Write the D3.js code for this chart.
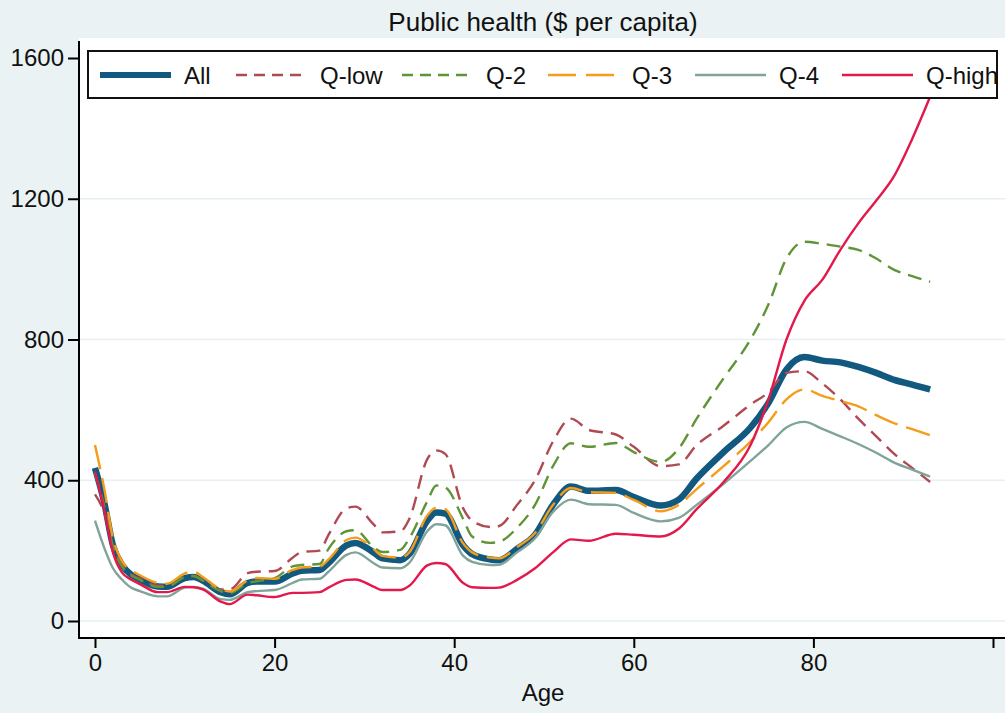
<!DOCTYPE html>
<html>
<head>
<meta charset="utf-8">
<script src="https://cdn.jsdelivr.net/npm/d3@7"></script>
<style>
  body { margin: 0; background: #eaf2f3; }
  svg { display: block; font-family: "Liberation Sans", Arial, sans-serif; }
</style>
</head>
<body>
<div id="chart"></div>
<script>
const ages = [0,1,2,3,4,5,7,8,10,11,12,14,15,17,18,20,22,23,25,26,28,29,31,32,34,35,37,38,39,41,42,44,45,47,49,51,53,55,58,60,63,65,67,70,73,75,77,79,81,83,85,87,89,91,93];

const allValues   = [435,340,215,160,132,118,98,97,122,125,115,82,76,108,112,112,135,143,145,165,215,222,195,178,173,190,285,308,305,215,190,175,173,205,245,330,382,370,372,352,328,345,405,480,550,620,715,750,740,735,722,705,685,672,658];
const qLowValues  = [360,310,215,160,132,120,100,100,125,128,115,90,90,136,140,142,180,196,200,245,320,325,275,252,255,290,460,485,475,320,285,267,270,330,400,510,575,543,530,495,440,445,500,555,615,650,705,710,675,630,575,525,475,435,395];
const q2Values    = [420,330,210,155,130,117,97,97,125,128,115,85,80,108,113,122,155,159,162,205,255,258,210,196,202,235,340,385,380,290,240,222,225,265,330,440,505,495,506,480,452,490,575,690,800,900,1030,1078,1072,1064,1055,1030,998,980,964];
const q3Values    = [500,380,235,170,145,130,108,106,135,140,125,90,84,115,122,120,145,152,155,175,230,237,205,185,180,195,300,322,318,220,195,180,178,210,250,330,378,366,364,344,312,330,375,440,510,565,630,658,640,625,610,585,562,545,528];
const q4Values    = [285,210,150,118,95,85,70,70,95,97,92,62,60,82,85,88,108,118,120,140,188,195,165,152,150,165,255,275,272,185,168,159,160,195,235,310,345,332,330,307,283,293,330,390,455,500,550,566,546,525,503,478,450,430,410];
const qHighValues = [425,320,195,138,118,105,82,82,97,96,90,55,48,75,73,68,80,80,82,95,117,118,98,88,88,100,158,165,162,108,96,94,95,117,150,195,232,228,248,245,240,262,318,395,500,630,800,910,970,1055,1130,1195,1265,1370,1490];

const seriesNames = ["All", "Q-low", "Q-2", "Q-3", "Q-4", "Q-high"];
const yTicks = [0, 400, 800, 1200, 1600];
const xTicks = [0, 20, 40, 60, 80, 100];

const series = [
  {name: "All",    values: allValues,   color: "#12597f", width: 6.5, dash: null,    keyDash: null},
  {name: "Q-low",  values: qLowValues,  color: "#b04a52", width: 2.4, dash: "14,8",  keyDash: "11,7"},
  {name: "Q-2",    values: q2Values,    color: "#5f9437", width: 2.4, dash: "14,8",  keyDash: "11,7"},
  {name: "Q-3",    values: q3Values,    color: "#f59c1a", width: 2.4, dash: "25,9",  keyDash: "28,10"},
  {name: "Q-4",    values: q4Values,    color: "#80a49a", width: 2.4, dash: null,    keyDash: null},
  {name: "Q-high", values: qHighValues, color: "#e3184b", width: 2.4, dash: null,    keyDash: null}
];

const W = 1005, H = 713;
const svg = d3.select("#chart").append("svg")
    .attr("width", W)
    .attr("height", H);

// plot region
const plot = {left: 79, top: 38, right: W, bottom: 638};

svg.append("rect")
    .attr("x", plot.left).attr("y", plot.top)
    .attr("width", plot.right - plot.left)
    .attr("height", plot.bottom - plot.top)
    .attr("fill", "#ffffff");

const x = d3.scaleLinear().domain([0, 100]).range([95, 993]);
const y = d3.scaleLinear().domain([0, 1600]).range([621, 58]);

// gridlines
svg.append("g")
    .selectAll("line")
    .data(yTicks.slice(0, -1))
    .join("line")
    .attr("x1", plot.left).attr("x2", plot.right)
    .attr("y1", d => y(d)).attr("y2", d => y(d))
    .attr("stroke", "#e6eff1")
    .attr("stroke-width", 1.5);

// series lines
const line = d3.line()
    .x((d, i) => x(ages[i]))
    .y(d => y(d))
    .curve(d3.curveMonotoneX);

// "All" first, the quintiles are drawn over it
series.forEach(function(s) {
    svg.append("path")
        .datum(s.values)
        .attr("fill", "none")
        .attr("stroke", s.color)
        .attr("stroke-width", s.width)
        .attr("stroke-dasharray", s.dash)
        .attr("stroke-linejoin", "round")
        .attr("d", line);
});

// y axis
const yAxis = svg.append("g")
    .attr("transform", "translate(" + plot.left + ",0)")
    .call(d3.axisLeft(y).tickValues(yTicks).tickSize(11).tickPadding(4).tickFormat(d3.format("d")));
yAxis.select(".domain").remove();
yAxis.append("line")
    .attr("x1", 0).attr("x2", 0)
    .attr("y1", 41).attr("y2", plot.bottom + 1)
    .attr("stroke", "#000").attr("stroke-width", 2);
yAxis.selectAll(".tick line").attr("stroke", "#000").attr("stroke-width", 2);
yAxis.selectAll(".tick text")
    .attr("fill", "#111")
    .style("font-size", "24px")
    .style("font-family", "Liberation Sans, Arial, sans-serif");

// x axis
const xAxis = svg.append("g")
    .attr("transform", "translate(0," + plot.bottom + ")")
    .call(d3.axisBottom(x).tickValues(xTicks).tickSize(10).tickPadding(6)
        .tickFormat(d => d === 100 ? "" : d));
xAxis.select(".domain").remove();
xAxis.append("line")
    .attr("x1", plot.left - 1).attr("x2", plot.right)
    .attr("y1", 0).attr("y2", 0)
    .attr("stroke", "#000").attr("stroke-width", 2);
xAxis.selectAll(".tick line").attr("stroke", "#000").attr("stroke-width", 2);
xAxis.selectAll(".tick text")
    .attr("fill", "#111")
    .style("font-size", "24px")
    .style("font-family", "Liberation Sans, Arial, sans-serif");

// titles
svg.append("text")
    .attr("x", 543).attr("y", 31)
    .attr("text-anchor", "middle")
    .attr("fill", "#111")
    .style("font-size", "26px")
    .text("Public health ($ per capita)");

svg.append("text")
    .attr("x", 543).attr("y", 701)
    .attr("text-anchor", "middle")
    .attr("fill", "#111")
    .style("font-size", "24px")
    .text("Age");

// legend
const legend = svg.append("g");
legend.append("rect")
    .attr("x", 88).attr("y", 51)
    .attr("width", 909).attr("height", 47)
    .attr("fill", "#ffffff")
    .attr("stroke", "#111")
    .attr("stroke-width", 2);

const legendX = [100, 236, 402, 548, 695, 842];
const legendKeyLen = 71;
series.forEach(function(s, i) {
    const g = legend.append("g").attr("transform", "translate(" + legendX[i] + ",75)");
    g.append("line")
        .attr("x1", 0).attr("x2", legendKeyLen)
        .attr("y1", 0).attr("y2", 0)
        .attr("stroke", s.color)
        .attr("stroke-width", s.name === "All" ? 6 : 2.4)
        .attr("stroke-dasharray", s.keyDash);
    g.append("text")
        .attr("x", legendKeyLen + 13)
        .attr("y", 9)
        .attr("fill", "#111")
        .style("font-size", "24px")
        .text(seriesNames[i]);
});
</script>
</body>
</html>
